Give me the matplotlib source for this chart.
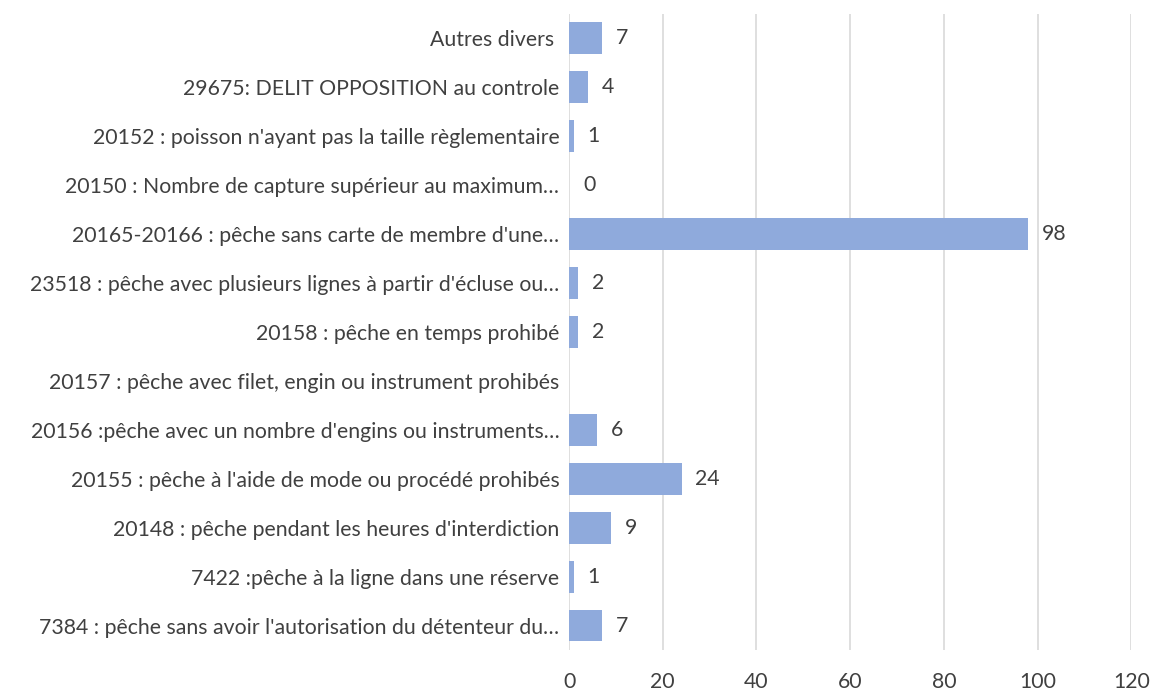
import numpy as np
import matplotlib.pyplot as plt

plt.rcParams['font.family'] = ['Lato', 'DejaVu Sans']

categories = [
    "7384 : pêche sans avoir l'autorisation du détenteur du…",
    "7422 :pêche à la ligne dans une réserve",
    "20148 : pêche pendant les heures d'interdiction",
    "20155 : pêche à l'aide de mode ou procédé prohibés",
    "20156 :pêche avec un nombre d'engins ou instruments…",
    "20157 : pêche avec filet, engin ou instrument prohibés",
    "20158 : pêche en temps prohibé",
    "23518 : pêche avec plusieurs lignes à partir d'écluse ou…",
    "20165-20166 : pêche sans carte de membre d'une…",
    "20150 : Nombre de capture supérieur au maximum…",
    "20152 : poisson n'ayant pas la taille règlementaire",
    "29675: DELIT OPPOSITION au controle",
    "Autres divers ",
]
values = [7, 1, 9, 24, 6, np.nan, 2, 2, 98, 0, 1, 4, 7]

text_color = '#404040'
bar_color = '#8faadc'
fs = 15.3

fig = plt.figure(figsize=(11.52, 6.93), dpi=100)
ax = fig.add_axes([0.494, 0.062, 0.488, 0.9185])

y = np.arange(len(categories))
ax.barh(y, np.nan_to_num(values), height=0.65, color=bar_color, zorder=3)

for yi, v in zip(y, values):
    if np.isnan(v):
        continue
    ax.annotate(str(int(v)), xy=(v, yi), xytext=(10, 0), textcoords='offset points',
                va='center', ha='left', fontsize=fs, color=text_color)

ax.set_xlim(0, 120)
ax.set_ylim(-0.5, len(categories) - 0.5)
ax.set_xticks(range(0, 121, 20))
ax.set_yticks(y)
ax.set_yticklabels(categories)
ax.tick_params(axis='both', length=0, labelsize=fs, labelcolor=text_color)
ax.tick_params(axis='x', pad=16)
ax.tick_params(axis='y', pad=7)

ax.grid(axis='x', color='#d9d9d9', linewidth=1.2, zorder=0)
for s in ax.spines.values():
    s.set_visible(False)

fig.savefig('out.png', dpi=100)
